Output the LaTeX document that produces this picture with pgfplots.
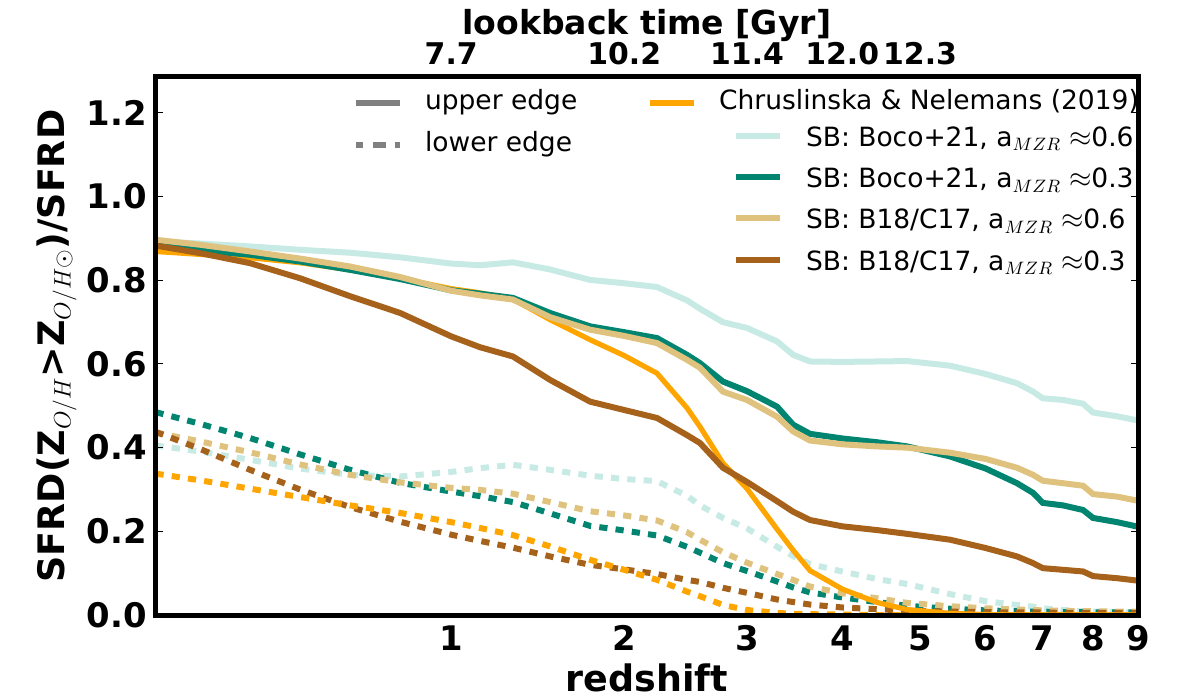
\documentclass[border=0pt]{standalone}
\usepackage{pgfplots}
\usepackage{pgfplotstable}
\pgfplotsset{compat=1.18}
\usepackage{fontspec}
\setmainfont{DejaVu Sans}
\definecolor{cOrange}{HTML}{FFA500}
\definecolor{cLTeal}{HTML}{C7EAE5}
\definecolor{cTeal}{HTML}{018571}
\definecolor{cTan}{HTML}{DFC27D}
\definecolor{cBrown}{HTML}{A6611A}
\definecolor{cGrey}{HTML}{808080}

% columns: 1+z, upper edges (LT,T,Tn,B,O), lower edges (LTd,Td,Tnd,Bd,Od)
\pgfplotstableread{
zp1    LT    T     Tn    B     O     LTd   Td    Tnd   Bd    Od
1.000 0.893 0.885 0.897 0.883 0.869 0.405 0.485 0.436 0.438 0.338
1.110 0.888 0.872 0.885 0.865 0.862 0.391 0.457 0.415 0.397 0.322
1.248 0.881 0.861 0.869 0.841 0.854 0.371 0.423 0.389 0.347 0.302
1.403 0.873 0.845 0.852 0.805 0.842 0.350 0.384 0.360 0.300 0.282
1.578 0.866 0.825 0.833 0.762 0.825 0.335 0.347 0.335 0.258 0.262
1.774 0.855 0.803 0.808 0.722 0.805 0.331 0.316 0.317 0.223 0.244
2.000 0.840 0.776 0.775 0.666 0.780 0.342 0.295 0.304 0.192 0.222
2.140 0.836 0.768 0.764 0.640 0.770 0.351 0.284 0.299 0.177 0.208
2.311 0.843 0.758 0.754 0.618 0.755 0.359 0.270 0.290 0.161 0.191
2.521 0.826 0.722 0.712 0.562 0.706 0.347 0.243 0.270 0.140 0.164
2.769 0.801 0.690 0.682 0.510 0.658 0.333 0.213 0.248 0.120 0.132
3.000 0.793 0.676 0.667 0.490 0.620 0.325 0.202 0.238 0.109 0.108
3.239 0.784 0.662 0.650 0.471 0.578 0.320 0.190 0.226 0.098 0.084
3.475 0.752 0.622 0.610 0.430 0.495 0.285 0.163 0.198 0.084 0.056
3.583 0.732 0.602 0.591 0.411 0.450 0.262 0.149 0.180 0.079 0.045
3.781 0.700 0.558 0.534 0.352 0.363 0.232 0.124 0.150 0.065 0.024
4.000 0.686 0.535 0.514 0.318 0.302 0.207 0.105 0.125 0.053 0.012
4.292 0.654 0.498 0.474 0.272 0.205 0.163 0.080 0.098 0.037 0.005
4.456 0.622 0.455 0.439 0.247 0.155 0.141 0.066 0.084 0.031 0.003
4.637 0.606 0.433 0.417 0.227 0.106 0.122 0.054 0.068 0.025 0.002
5.000 0.605 0.422 0.408 0.212 0.062 0.104 0.042 0.052 0.018 0.001
5.425 0.606 0.413 0.403 0.203 0.030 0.086 0.031 0.040 0.014 0.000
5.822 0.607 0.403 0.400 0.194 0.013 0.074 0.022 0.029 0.010 0.000
6.436 0.596 0.379 0.388 0.180 0.004 0.050 0.015 0.021 0.008 0.000
7.000 0.576 0.350 0.373 0.160 0.001 0.033 0.011 0.016 0.007 0.000
7.532 0.554 0.315 0.352 0.140 0.000 0.024 0.009 0.013 0.006 0.000
7.820 0.534 0.292 0.335 0.124 0.000 0.020 0.008 0.012 0.006 0.000
8.000 0.518 0.268 0.321 0.112 0.000 0.016 0.008 0.011 0.006 0.000
8.390 0.514 0.262 0.315 0.108 0.000 0.012 0.007 0.010 0.005 0.000
8.792 0.505 0.251 0.309 0.104 0.000 0.009 0.007 0.009 0.005 0.000
9.000 0.484 0.232 0.289 0.093 0.000 0.008 0.006 0.009 0.005 0.000
9.520 0.475 0.222 0.283 0.088 0.000 0.007 0.006 0.008 0.005 0.000
10.000 0.465 0.211 0.273 0.082 0.000 0.006 0.006 0.008 0.005 0.000
}\sfrddata

\begin{document}
\begin{tikzpicture}
\useasboundingbox (-77.75bp,-42.5bp) rectangle (522.25bp,307.5bp);
\begin{axis}[
  at={(0bp,0bp)}, anchor=south west,
  scale only axis, width=491.25bp, height=269bp,
  xmode=log, log basis x=10, xmin=1, xmax=10, ymin=0, ymax=1.286,
  xminorticks=false,
  axis on top,
  axis line style={line width=2.5bp, black},
  xtick={2,3,4,5,6,7,8,9,10},
  xticklabels={1,2,3,4,5,6,7,8,9},
  xtick style={draw=none},
  ytick={0,0.2,0.4,0.6,0.8,1.0,1.2},
  yticklabels={0.0,0.2,0.4,0.6,0.8,1.0,1.2},
  ytick style={line width=0.5bp, black},
  tick align=inside, major tick length=3.75bp,
  ytick pos=both,
  xticklabel style={font=\fontsize{17}{20}\selectfont\bfseries, inner sep=0pt, anchor=north, yshift=-5bp},
  yticklabel style={font=\fontsize{17}{20}\selectfont\bfseries, inner sep=0pt, anchor=east, xshift=-4.25bp},
  xlabel={redshift},
  xlabel style={font=\fontsize{18.3}{22}\selectfont\bfseries, at={(axis description cs:0.5,0)}, anchor=north, inner sep=0pt, yshift=-24bp},
  ylabel={SFRD(Z$_{O/H}$>Z$_{O/H\odot}$)/SFRD},
  ylabel style={font=\fontsize{18.3}{22}\selectfont\bfseries, at={(axis description cs:-0.0926,0.5)}, anchor=base, inner sep=0pt},
  legend columns=2,
  legend image code/.code={\draw[#1] (0bp,0bp) -- (22bp,0bp);},
  legend style={draw=none, fill=none, inner sep=0pt, outer sep=0pt,
    font=\fontsize{13.3}{16}\selectfont,
    cells={anchor=west},
    nodes={inner sep=0pt, text height=10bp, text depth=3bp},
    row sep=8bp,
    /tikz/every odd column/.append style={column sep=11bp},
    /tikz/every even column/.append style={column sep=34.9bp},
    at={(0.20102,0.97584)}, anchor=north west},
]
% lower edges
\addplot[forget plot, cLTeal, line width=3bp, dash pattern=on 4.1bp off 4.1bp] table[x=zp1, y=LTd] {\sfrddata};
\addplot[forget plot, cTeal, line width=3bp, dash pattern=on 4.1bp off 4.1bp] table[x=zp1, y=Td] {\sfrddata};
\addplot[forget plot, cTan, line width=3bp, dash pattern=on 4.1bp off 4.1bp] table[x=zp1, y=Tnd] {\sfrddata};
\addplot[forget plot, cBrown, line width=3bp, dash pattern=on 4.1bp off 4.1bp] table[x=zp1, y=Bd] {\sfrddata};
\addplot[forget plot, cOrange, line width=3bp, dash pattern=on 4.1bp off 4.1bp] table[x=zp1, y=Od] {\sfrddata};
% upper edges
\addplot[forget plot, cOrange, line width=2.6bp] table[x=zp1, y=O] {\sfrddata};
\addplot[forget plot, cLTeal, line width=3bp] table[x=zp1, y=LT] {\sfrddata};
\addplot[forget plot, cTeal, line width=3bp] table[x=zp1, y=T] {\sfrddata};
\addplot[forget plot, cTan, line width=3bp] table[x=zp1, y=Tn] {\sfrddata};
\addplot[forget plot, cBrown, line width=3bp] table[x=zp1, y=B] {\sfrddata};
% legend 1
\addlegendimage{cGrey, line width=3bp}
\addlegendentry{upper edge}
\addlegendimage{cOrange, line width=3bp}
\addlegendentry{Chruslinska \& Nelemans (2019)}
\addlegendimage{cGrey, line width=3bp, dash pattern=on 6.65bp off 4.65bp, dash phase=2.95bp}
\addlegendentry{lower edge}
\end{axis}
\begin{axis}[
  at={(0bp,0bp)}, anchor=south west,
  scale only axis, width=491.25bp, height=269bp,
  xmode=log, log basis x=10, xmin=1, xmax=10, ymin=0, ymax=1.286,
  xminorticks=false,
  hide y axis,
  axis x line*=top,
  axis line style={draw=none},
  xtick={2,3,4,5,6},
  xticklabels={7.7,10.2,11.4,12.0,12.3},
  xtick style={draw=none},
  xticklabel style={font=\fontsize{15}{18}\selectfont\bfseries, inner sep=0pt, anchor=south, yshift=6bp},
  title={lookback time [Gyr]},
  title style={font=\fontsize{16.6}{20}\selectfont\bfseries, at={(axis description cs:0.5,1)}, anchor=base, inner sep=0pt, yshift=15.5bp},
  legend columns=1,
  legend image code/.code={\draw[#1] (0bp,1.8bp) -- (22bp,1.8bp);},
  legend style={draw=none, fill=none, inner sep=0pt, outer sep=0pt,
    font=\fontsize{13.3}{16}\selectfont,
    cells={anchor=west},
    nodes={inner sep=0pt, text height=10bp, text depth=3bp},
    row sep=7.6bp,
    /tikz/every odd column/.append style={column sep=11.5bp},
    at={(0.58779,0.90781)}, anchor=north west},
]
\addlegendimage{cLTeal, line width=3bp}
\addlegendentry{SB: Boco+21, a$_{MZR}\approx$0.6}
\addlegendimage{cTeal, line width=3bp}
\addlegendentry{SB: Boco+21, a$_{MZR}\approx$0.3}
\addlegendimage{cTan, line width=3bp}
\addlegendentry{SB: B18/C17, a$_{MZR}\approx$0.6}
\addlegendimage{cBrown, line width=3bp}
\addlegendentry{SB: B18/C17, a$_{MZR}\approx$0.3}
\end{axis}
\end{tikzpicture}
\end{document}
